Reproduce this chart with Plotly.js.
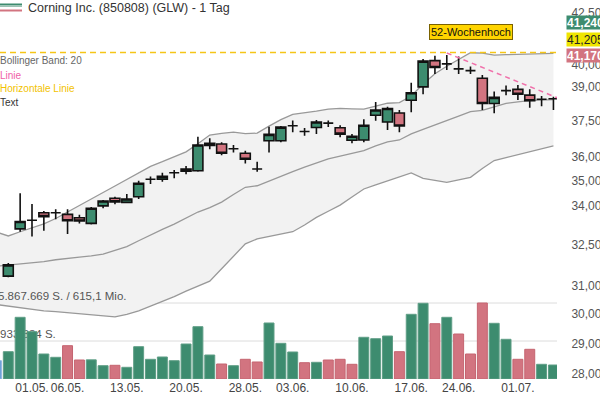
<!DOCTYPE html>
<html>
<head>
<meta charset="utf-8">
<script src="https://cdn.plot.ly/plotly-3.0.1.min.js"></script>
<style>html,body{margin:0;padding:0;background:#fff;}#chart{width:600px;height:399px;}</style>
</head>
<body>
<div id="chart"></div>
<script>
// ---------- data ----------
const dates = ['26.04.','29.04.','30.04.','01.05.','02.05.','03.05.','06.05.','07.05.','08.05.','09.05.','10.05.',
  '13.05.','14.05.','15.05.','16.05.','17.05.','20.05.','21.05.','22.05.','23.05.','24.05.',
  '28.05.','29.05.','30.05.','31.05.','03.06.','04.06.','05.06.','06.06.','07.06.',
  '10.06.','11.06.','12.06.','13.06.','14.06.','17.06.','18.06.','20.06.','21.06.',
  '24.06.','25.06.','26.06.','27.06.','28.06.','01.07.','02.07.','03.07.','05.07.'];

// candles (from 29.04.)
const open  = [31.35,33.11,33.44,33.73,33.73,33.67,33.54,33.32,34.00,34.30,34.14,34.36,35.06,35.06,35.33,35.39,35.41,36.46,36.52,36.32,36.13,35.48,36.66,36.66,37.30,37.05,37.22,37.41,37.21,36.68,36.69,37.75,37.46,37.85,38.41,39.01,40.21,40.06,39.83,39.75,39.40,38.27,38.84,38.90,38.64,38.46,38.48];
const high  = [31.83,34.50,34.07,33.80,33.87,33.87,33.65,33.96,34.23,34.36,34.47,35.00,35.17,35.33,35.44,35.60,36.83,36.76,36.59,36.48,36.24,35.78,37.26,37.29,37.52,37.20,37.55,37.52,37.32,36.94,37.58,38.33,38.12,37.98,39.20,40.29,40.44,40.47,40.40,39.94,39.55,38.80,39.07,39.10,38.90,38.60,38.57];
const low   = [31.31,33.00,32.82,33.04,33.48,32.91,33.32,33.28,33.91,34.06,34.10,34.27,34.87,34.96,35.10,35.27,35.37,36.30,36.05,36.16,35.71,35.37,36.16,36.59,37.02,36.87,36.94,37.24,36.81,36.55,36.59,37.51,37.12,37.02,37.88,38.68,39.60,39.78,39.60,39.59,37.98,37.84,38.64,38.42,38.08,38.15,37.98];
const close = [31.76,33.39,33.44,33.58,33.73,33.42,33.41,33.91,34.19,34.16,34.27,34.90,35.06,35.18,35.33,35.48,36.48,36.55,36.13,36.32,35.88,35.48,36.93,37.24,37.30,37.05,37.46,37.41,36.94,36.85,37.32,37.98,38.05,37.29,38.75,40.19,39.89,40.06,39.83,39.75,38.27,38.54,38.84,38.68,38.39,38.46,38.48];

// volume (from 26.04.)
const volume = [1413000,2108000,4764000,3652000,1930000,1675000,2571000,1467000,1480000,1027000,1058000,903000,2494000,1521000,1699000,1413000,2702000,4038000,1853000,1158000,1027000,1521000,1313000,4324000,2756000,2085000,1258000,1289000,1467000,1521000,1135000,3220000,3111000,3320000,2108000,4995000,5845000,4269000,4764000,3474000,1930000,5867669,4300000,3065000,1521000,2293000,1135000,1081000];

// Bollinger band 20 (from 26.04.)
const bbUpper  = [32.99,32.84,33.00,33.15,33.30,33.51,33.77,34.02,34.27,34.53,34.79,35.05,35.32,35.59,35.78,35.99,36.19,36.53,36.90,36.97,37.02,36.96,36.98,37.28,37.56,37.79,37.85,37.93,38.02,38.05,38.03,38.02,38.15,38.28,38.31,38.60,39.14,39.61,39.95,40.28,40.58,40.56,40.47,40.49,40.50,40.52,40.54,40.55];
const bbMiddle = [31.71,31.75,31.78,31.83,31.88,31.95,32.01,32.05,32.09,32.16,32.30,32.44,32.66,32.89,33.09,33.29,33.53,33.76,33.93,34.15,34.45,34.74,34.80,34.98,35.18,35.37,35.56,35.74,35.90,36.01,36.13,36.24,36.44,36.61,36.69,36.95,37.14,37.32,37.50,37.71,37.91,37.97,38.12,38.27,38.34,38.40,38.42,38.44];
const bbLower  = [30.34,30.28,30.22,30.16,30.12,30.09,30.05,30.01,29.97,29.93,29.91,30.00,30.12,30.28,30.44,30.62,30.81,30.99,31.17,31.62,32.08,32.54,32.73,32.82,32.91,33.00,33.26,33.55,33.79,34.03,34.35,34.67,34.84,35.00,35.16,35.32,35.10,35.02,34.94,35.04,35.14,35.50,35.83,35.95,36.08,36.20,36.32,36.44];

const xTickDates = ['01.05.','06.05.','13.05.','20.05.','28.05.','03.06.','10.06.','17.06.','24.06.','01.07.'];
const yTicks = [28,29,30,31,32.5,34,35,36,37.5,39,40,42.5];
const high52 = 40.59;
const trendLine = {x0: 37, y0: 40.57, x1: 46.8, y1: 38.42};
const priceTags = [{v:'41,240', bg:'#3d8c6f', fc:'#fff', b:true}, {v:'41,205', bg:'#efe500', fc:'#222', b:false}, {v:'41,170', bg:'#d27480', fc:'#fff', b:true}];

// ---------- build ----------
const GREEN = '#3d8c6f', RED = '#d27480', BLUE = '#6b9fd8';
const xAll = dates.map((d,i) => i - 1);        // 26.04. sits left of the plot
const xC = open.map((d,i) => i);
const volColors = volume.map((v,i) => {
  if (i === 0) return BLUE;
  const c = close[i-1];
  const p = i >= 2 ? close[i-2] : null;
  return (p === null || c >= p) ? GREEN : RED;
});
const volLines = volColors.map(c => c === GREEN ? '#5f9e86' : (c === RED ? '#c56470' : '#8fb5e0'));
const volMax = Math.max(...volume);

const fmt = v => v.toFixed(3).replace('.', ',');
const PW = 557, PH = 379;
const px = x => x / PW, py = y => 1 - y / PH;
const FONT = 'Liberation Sans, Arial, sans-serif';
const LOGRANGE = [1.444649, 1.634760];
const VOLRANGE = [0, volMax * PH / 76];

const traces = [
  // main subplot (bottom layer): Bollinger band
  {type:'scatter', mode:'lines', x:xAll, y:bbLower, line:{color:'#999', width:1.3}, hoverinfo:'skip', showlegend:false},
  {type:'scatter', mode:'lines', x:xAll, y:bbUpper, line:{color:'#999', width:1.3}, fill:'tonexty', fillcolor:'#f2f2f2', hoverinfo:'skip', showlegend:false},
  {type:'scatter', mode:'lines', x:xAll, y:bbMiddle, line:{color:'#999', width:1.3}, hoverinfo:'skip', showlegend:false},
  // volume labels (behind the bars)
  {type:'scatter', mode:'text', x:[-0.87, -1.5], y:[volMax, volMax/2], yaxis:'y2',
   text:[volMax.toLocaleString('de-DE') + ' S. / 615,1 Mio.', Math.round(volMax/2 - 0.5).toLocaleString('de-DE') + ' S.'],
   textposition:'top right', textfont:{family:FONT, size:11.5, color:'#555'}, cliponaxis:true, hoverinfo:'skip', showlegend:false},
  // volume bars
  {type:'bar', x:xAll, y:volume, yaxis:'y3', width:0.84, marker:{color:volColors, line:{color:volLines, width:1}}, hoverinfo:'skip', showlegend:false},
  // candles (top layer)
  {type:'candlestick', x:xC, open:open, high:high, low:low, close:close, yaxis:'y4',
   increasing:{line:{color:'#111', width:1.6}, fillcolor:GREEN},
   decreasing:{line:{color:'#111', width:1.6}, fillcolor:RED},
   hoverinfo:'skip', showlegend:false}
];

const annotations = [
  {xref:'paper', yref:'paper', x:px(26), y:py(8), xanchor:'left', yanchor:'middle', showarrow:false,
   text:'Corning Inc. (850808) (GLW) - 1 Tag', font:{family:FONT, size:12.5, color:'#333'}},
  {xref:'paper', yref:'paper', x:px(-2), y:py(61), xanchor:'left', yanchor:'middle', showarrow:false,
   text:'Bollinger Band: 20', font:{family:FONT, size:10, color:'#666'}},
  {xref:'paper', yref:'paper', x:px(-2), y:py(75), xanchor:'left', yanchor:'middle', showarrow:false,
   text:'Linie', font:{family:FONT, size:10, color:'#f060a8'}},
  {xref:'paper', yref:'paper', x:px(-2), y:py(89), xanchor:'left', yanchor:'middle', showarrow:false,
   text:'Horizontale Linie', font:{family:FONT, size:10, color:'#f2c200'}},
  {xref:'paper', yref:'paper', x:px(-2), y:py(103), xanchor:'left', yanchor:'middle', showarrow:false,
   text:'Text', font:{family:FONT, size:10, color:'#333'}},
  {xref:'paper', yref:'paper', x:px(471), y:py(32.3), xanchor:'center', yanchor:'middle', showarrow:false,
   text:'52-Wochenhoch', font:{family:FONT, size:11, color:'#111'}, bgcolor:'#ffd400', bordercolor:'#7a6200', borderwidth:1, borderpad:1}
];
const tagY = [22, 39.5, 56];
priceTags.forEach((t,i) => annotations.push({
  xref:'paper', yref:'paper', x:px(566), y:py(tagY[i]), xanchor:'left', yanchor:'middle', showarrow:false,
  text: t.b ? '<b>' + t.v + '</b>' : t.v, font:{family:FONT, size:12, color:t.fc}, bgcolor:t.bg, borderpad:0, width:44, height:13, align:'left'
}));

const shapes = [
  {type:'line', xref:'paper', yref:'y3', x0:0, x1:1, y0:volMax, y1:volMax, line:{color:'#dcdcdc', width:1}, layer:'below'},
  {type:'line', xref:'paper', yref:'y3', x0:0, x1:1, y0:volMax/2, y1:volMax/2, line:{color:'#dcdcdc', width:1}, layer:'below'},
  {type:'line', xref:'paper', yref:'y', x0:0, x1:1, y0:high52, y1:high52, line:{color:'#f5c518', width:1.5, dash:'6px,4px'}},
  {type:'line', xref:'x', yref:'y', x0:trendLine.x0, x1:trendLine.x1, y0:trendLine.y0, y1:trendLine.y1, line:{color:'#f070aa', width:1.5, dash:'5px,4px'}},
  {type:'line', xref:'paper', yref:'paper', x0:0, x1:px(22), y0:py(4.5), y1:py(4.5), line:{color:GREEN, width:2}},
  {type:'line', xref:'paper', yref:'paper', x0:0, x1:px(22), y0:py(6.5), y1:py(6.5), line:{color:'#9cc2b3', width:1}},
  {type:'line', xref:'paper', yref:'paper', x0:0, x1:px(22), y0:py(10.5), y1:py(10.5), line:{color:RED, width:2}}
];

const layout = {
  width:600, height:399,
  margin:{l:0, r:43, t:0, b:20, pad:0},
  paper_bgcolor:'#fff', plot_bgcolor:'#fff',
  showlegend:false,
  boxgap:0.16, boxgroupgap:0,
  font:{family:FONT},
  xaxis:{range:[-0.70, 46.30], rangeslider:{visible:false}, showgrid:false, zeroline:false, showline:false,
    tickmode:'array', tickvals:xTickDates.map(d => dates.indexOf(d) - 1), ticktext:xTickDates,
    ticks:'', tickfont:{family:FONT, size:12, color:'#444'}, fixedrange:true},
  yaxis:{type:'log', range:LOGRANGE, side:'right', showgrid:false, zeroline:false, showline:false,
    tickmode:'array', tickvals:yTicks, ticktext:yTicks.map(fmt),
    ticks:'outside', ticklen:11, tickcolor:'rgba(0,0,0,0)', tickfont:{family:FONT, size:12, color:'#555'}, fixedrange:true},
  yaxis2:{overlaying:'y', range:VOLRANGE, visible:false, fixedrange:true},
  yaxis3:{overlaying:'y', range:VOLRANGE, visible:false, fixedrange:true},
  yaxis4:{overlaying:'y', type:'log', range:LOGRANGE, visible:false, fixedrange:true},
  annotations:annotations,
  shapes:shapes
};

Plotly.newPlot('chart', traces, layout, {staticPlot:true, displayModeBar:false});
</script>
</body>
</html>
